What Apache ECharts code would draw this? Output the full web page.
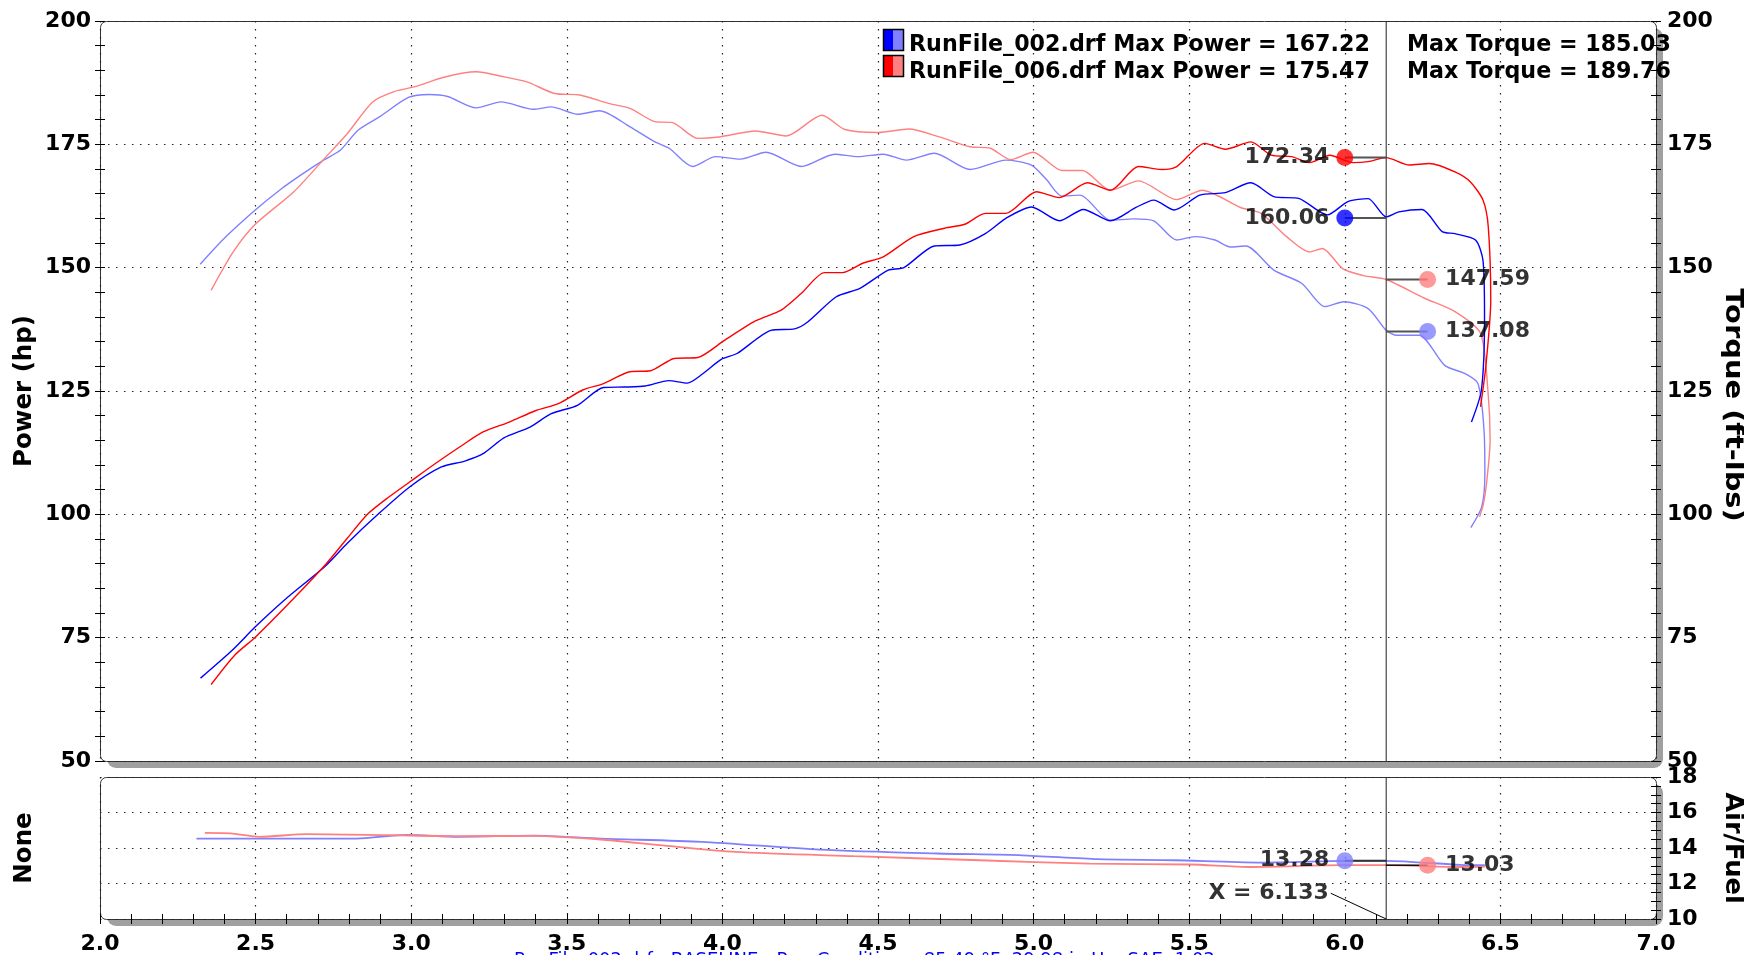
<!DOCTYPE html>
<html>
<head>
<meta charset="utf-8">
<script src="https://cdn.jsdelivr.net/npm/echarts@6.0.0/dist/echarts.min.js"></script>
<style>
  html, body { margin: 0; padding: 0; background: #fff; }
  #dyno { width: 1744px; height: 955px; }
</style>
</head>
<body>
<div id="dyno"></div>
<script>
//run files
var runNames = ['RunFile_002.drf', 'RunFile_006.drf'];
var maxPower = [167.22, 175.47];
var maxTorque = [185.03, 189.76];
var footerText = 'RunFile_002.drf - BASELINE - Run Conditions: 85.49 \u00b0F, 29.98 in Hg, SAE: 1.02';

//rpm (x1000) axis ticks
var rpmTicks = [2.0, 2.5, 3.0, 3.5, 4.0, 4.5, 5.0, 5.5, 6.0, 6.5, 7.0];

//power (hp), [rpm, hp]
var power002 = [[2.323,66.8],[2.424,72.4],[2.499,77.2],[2.592,82.6],[2.727,89.7],[2.794,94.1],[2.895,100.1],[2.996,105.6],[3.097,109.6],[3.172,110.8],[3.231,112.3],[3.298,115.5],[3.382,117.7],[3.450,120.4],[3.534,122.1],[3.618,125.7],[3.685,125.8],[3.752,126.0],[3.828,127.1],[3.887,126.6],[3.937,128.5],[3.996,131.4],[4.047,132.6],[4.156,137.3],[4.232,137.6],[4.274,139.0],[4.366,144.1],[4.442,145.8],[4.533,149.5],[4.583,150.0],[4.681,154.4],[4.763,154.6],[4.845,156.9],[4.911,160.0],[4.993,162.3],[5.083,159.5],[5.160,161.8],[5.247,159.5],[5.329,162.2],[5.386,163.7],[5.452,161.7],[5.534,164.7],[5.616,165.2],[5.698,167.2],[5.772,164.4],[5.854,164.0],[5.944,160.7],[6.010,163.4],[6.075,164.0],[6.133,160.3],[6.174,161.3],[6.248,161.8],[6.313,157.3],[6.354,156.9],[6.420,155.6],[6.444,151.5],[6.449,140.0],[6.439,125.2],[6.407,118.7]];
var power006 = [[2.357,65.5],[2.432,71.4],[2.499,75.1],[2.626,83.2],[2.727,90.0],[2.794,95.1],[2.861,100.1],[2.928,103.5],[2.996,106.6],[3.080,110.4],[3.164,114.0],[3.231,116.7],[3.315,118.7],[3.399,121.0],[3.475,122.5],[3.551,125.2],[3.618,126.5],[3.702,128.9],[3.769,129.1],[3.845,131.6],[3.921,131.8],[4.005,135.2],[4.106,139.2],[4.189,141.4],[4.254,144.8],[4.328,149.0],[4.386,149.0],[4.451,150.9],[4.517,152.2],[4.615,156.3],[4.714,158.0],[4.779,158.8],[4.845,161.0],[4.911,161.0],[5.009,165.4],[5.083,164.2],[5.173,167.2],[5.247,165.7],[5.337,170.5],[5.411,169.9],[5.460,170.5],[5.550,175.2],[5.616,174.0],[5.698,175.5],[5.764,172.8],[5.829,172.5],[5.887,171.3],[5.952,172.8],[6.026,171.3],[6.075,171.5],[6.133,172.3],[6.207,170.8],[6.272,171.1],[6.354,169.4],[6.403,167.4],[6.444,163.7],[6.461,158.3],[6.469,143.4],[6.453,129.9],[6.436,121.8]];

//torque (ft-lbs), [rpm, ft-lbs]
var torque002 = [[2.322,150.7],[2.405,156.3],[2.499,161.7],[2.577,165.7],[2.646,168.8],[2.721,171.9],[2.772,173.8],[2.830,177.9],[2.899,180.6],[2.991,184.5],[3.059,185.1],[3.117,184.7],[3.209,182.4],[3.289,183.6],[3.393,182.1],[3.450,182.6],[3.536,181.1],[3.605,181.8],[3.702,178.6],[3.783,175.5],[3.829,174.2],[3.904,170.5],[3.978,172.5],[4.058,172.0],[4.140,173.4],[4.254,170.5],[4.361,173.0],[4.435,172.5],[4.517,173.0],[4.591,171.8],[4.681,173.2],[4.796,169.9],[4.911,171.8],[4.993,170.8],[5.042,167.8],[5.091,164.5],[5.149,164.7],[5.247,159.6],[5.321,159.9],[5.386,159.5],[5.460,155.6],[5.518,156.3],[5.583,155.6],[5.632,154.2],[5.682,154.4],[5.772,149.5],[5.862,146.8],[5.936,142.1],[5.997,143.1],[6.075,141.7],[6.133,137.3],[6.165,136.3],[6.239,136.3],[6.321,130.2],[6.387,128.5],[6.428,126.5],[6.448,116.4],[6.450,108.0],[6.440,101.5],[6.405,97.3]];
var torque006 = [[2.357,145.4],[2.428,153.2],[2.499,158.8],[2.623,165.4],[2.721,172.1],[2.795,177.2],[2.876,183.6],[2.945,185.7],[3.013,186.7],[3.105,188.6],[3.209,189.7],[3.289,188.8],[3.370,187.7],[3.461,185.3],[3.542,185.0],[3.634,183.3],[3.703,182.3],[3.783,179.6],[3.840,179.4],[3.921,176.2],[3.990,176.5],[4.107,177.7],[4.205,176.7],[4.320,180.9],[4.394,178.0],[4.500,177.4],[4.599,178.1],[4.697,176.5],[4.796,174.5],[4.861,174.2],[4.927,171.9],[4.998,173.4],[5.091,169.7],[5.157,169.7],[5.247,165.7],[5.337,167.6],[5.460,163.8],[5.542,165.7],[5.665,162.2],[5.731,161.0],[5.813,156.3],[5.887,153.2],[5.928,153.9],[5.993,149.8],[6.059,148.4],[6.133,147.6],[6.256,143.8],[6.354,141.1],[6.436,136.7],[6.460,125.0],[6.467,115.0],[6.455,106.0],[6.445,102.0],[6.433,99.5]];

//air/fuel, [rpm, ratio]
var afr002 = [[2.310,14.53],[2.824,14.53],[2.987,14.74],[3.149,14.63],[3.393,14.70],[3.609,14.53],[3.934,14.35],[4.313,13.91],[4.692,13.69],[4.963,13.59],[5.206,13.37],[5.450,13.31],[5.721,13.18],[5.991,13.27],[6.133,13.28],[6.370,13.05],[6.450,13.03]];
var afr006 = [[2.337,14.85],[2.420,14.82],[2.513,14.63],[2.662,14.78],[2.932,14.72],[3.149,14.67],[3.393,14.68],[3.609,14.48],[3.799,14.16],[4.042,13.78],[4.421,13.54],[4.828,13.31],[5.179,13.12],[5.504,13.07],[5.694,12.93],[5.991,13.03],[6.133,13.03],[6.370,12.93],[6.450,12.95]];

//cursor readout
var cursorRpm = 6.133;
var readoutLeftRpm = 6.0;
var readoutRightRpm = 6.266;
var cursorPower = [160.06, 172.34];
var cursorTorque = [137.08, 147.59];
var cursorAfr = [13.28, 13.03];
var cursorTag = [5.955, 11.45];

//colours
var darkColors = ['#0000ff', '#ff0000'];
var lightColors = ['#8080ff', '#ff8080'];

//layout
var FONT = 'DejaVu Sans';
var gTop = {left: 100, top: 21, width: 1556, height: 740};
var gBot = {left: 100, top: 777, width: 1556, height: 142};
var boldText = {fontFamily: FONT, fontWeight: 'bold', fontSize: 22, color: '#000'};
var dotted = {color: '#222', width: 1.2, type: [1.5, 6.5]};

function tickAxis(base, inside, withLabel, withSplit, minorSplit) {
    var ax = {
        type: 'value',
        axisLine: {show: false},
        axisTick: {show: true, inside: inside, length: 5, lineStyle: {color: '#000', width: 1}},
        minorTick: {show: true, splitNumber: minorSplit, length: 5, lineStyle: {color: '#000', width: 1}},
        splitLine: {show: withSplit, lineStyle: dotted},
        axisLabel: withLabel ? Object.assign({show: true, showMinLabel: true, showMaxLabel: true}, boldText) : {show: false}
    };
    return Object.assign(ax, base);
}

function curve(name, data, color, xi, yi, z, width) {
    return {
        name: name, type: 'line', data: data, xAxisIndex: xi, yAxisIndex: yi,
        smooth: 0.25, showSymbol: false, symbol: 'none', z: z,
        lineStyle: {color: color, width: width || 1.4}
    };
}

function segment(data, xi, yi, color, width, z) {
    return {
        type: 'line', data: data, xAxisIndex: xi, yAxisIndex: yi, symbol: 'none',
        showSymbol: false, z: z, lineStyle: {color: color, width: width}
    };
}

function readout(rpm, value, color, side, xi, yi) {
    return {
        type: 'scatter', xAxisIndex: xi, yAxisIndex: yi, z: 8,
        symbolSize: 17, itemStyle: {color: color},
        data: [[rpm, value]],
        label: Object.assign({
            show: true, position: side, distance: side === 'left' ? 7 : 9,
            textBorderWidth: 0,
            formatter: function (p) { return p.value[1].toFixed(2); }
        }, boldText)
    };
}

var series = [];
//torque first, power above
series.push(curve('Torque 002', torque002, lightColors[0], 0, 0, 2));
series.push(curve('Torque 006', torque006, lightColors[1], 0, 0, 2));
series.push(curve('Power 002', power002, darkColors[0], 0, 0, 3));
series.push(curve('Power 006', power006, darkColors[1], 0, 0, 3));
series.push(curve('AFR 002', afr002, lightColors[0], 1, 4, 2, 1.8));
series.push(curve('AFR 006', afr006, lightColors[1], 1, 4, 2, 1.8));

//cursor lines
series.push(segment([[cursorRpm, 50], [cursorRpm, 200]], 0, 0, '#222', 1, 4));
series.push(segment([[cursorRpm, 10], [cursorRpm, 18]], 1, 4, '#222', 1, 4));

//readout connectors and dots
for (var i = 0; i < 2; i++) {
    series.push(segment([[readoutLeftRpm, cursorPower[i]], [cursorRpm, cursorPower[i]]], 0, 0, '#555', 2, 5));
    series.push(segment([[cursorRpm, cursorTorque[i]], [readoutRightRpm, cursorTorque[i]]], 0, 0, '#555', 2, 5));
    series.push(readout(readoutLeftRpm, cursorPower[i], darkColors[i], 'left', 0, 0));
    series.push(readout(readoutRightRpm, cursorTorque[i], lightColors[i], 'right', 0, 0));
}
series.push(segment([[readoutLeftRpm, cursorAfr[0]], [cursorRpm, cursorAfr[0]]], 1, 4, '#333', 2, 5));
series.push(segment([[cursorRpm, cursorAfr[1]], [readoutRightRpm, cursorAfr[1]]], 1, 4, '#111', 1.5, 5));
series.push(readout(readoutLeftRpm, cursorAfr[0], lightColors[0], 'left', 1, 4));
series.push(readout(readoutRightRpm, cursorAfr[1], lightColors[1], 'right', 1, 4));

//X = tag with leader
series.push(segment([cursorTag, [cursorRpm, 10]], 1, 4, '#000', 1, 5));
series.push({
    type: 'scatter', xAxisIndex: 1, yAxisIndex: 4, symbolSize: 0, z: 8,
    data: [cursorTag],
    label: Object.assign({show: true, position: 'left', distance: 2,
        formatter: 'X = ' + cursorRpm.toFixed(3)}, boldText)
});

//frames, legend, titles
function frame(g) {
    return [
        {type: 'rect', z: -20, shape: {x: g.left + 7, y: g.top + 7, width: g.width, height: g.height, r: 9},
            style: {fill: '#a0a0a0'}},
        {type: 'rect', z: -10, shape: {x: g.left + 0.5, y: g.top + 0.5, width: g.width, height: g.height, r: 6},
            style: {fill: '#fff', stroke: '#333', lineWidth: 1}}
    ];
}

function vText(text, x, y, rot, stretch) {
    return {type: 'text', x: x, y: y, rotation: rot, scaleX: stretch || 1, z: 10,
        style: {text: text, fill: '#000', font: 'bold 24.5px "' + FONT + '"', align: 'center', verticalAlign: 'middle'}};
}

var graphics = frame(gTop).concat(frame(gBot));
var iconY = [29.5, 55.5];
var rowY = [45.5, 72];
for (var r = 0; r < 2; r++) {
    graphics.push({type: 'rect', z: 10, shape: {x: 883.5, y: iconY[r], width: 10, height: 21},
        style: {fill: darkColors[r]}});
    graphics.push({type: 'rect', z: 10, shape: {x: 893.5, y: iconY[r], width: 10, height: 21},
        style: {fill: lightColors[r]}});
    graphics.push({type: 'rect', z: 11, shape: {x: 883.5, y: iconY[r], width: 20, height: 21},
        style: {fill: 'none', stroke: '#000', lineWidth: 1.5}});
    graphics.push({type: 'text', x: 909, y: rowY[r], z: 10,
        style: {text: runNames[r] + ' Max Power = ' + maxPower[r].toFixed(2), fill: '#000',
            font: 'bold 22.2px "' + FONT + '"', verticalAlign: 'middle'}});
    graphics.push({type: 'text', x: 1407, y: rowY[r], z: 10,
        style: {text: 'Max Torque = ' + maxTorque[r].toFixed(2), fill: '#000',
            font: 'bold 22.2px "' + FONT + '"', verticalAlign: 'middle'}});
}
graphics.push(vText('Power (hp)', 25, 391, Math.PI / 2));
graphics.push(vText('Torque (ft-lbs)', 1732, 405, -Math.PI / 2, 1.18));
graphics.push(vText('None', 25, 848, Math.PI / 2));
graphics.push(vText('Air/Fuel', 1732, 848, -Math.PI / 2, 1.05));
graphics.push({type: 'text', x: 514, y: 951, z: 10,
    style: {text: footerText, fill: '#0000ff', font: '18px "' + FONT + '"', verticalAlign: 'top'}});

var rpmMin = rpmTicks[0], rpmMax = rpmTicks[rpmTicks.length - 1];
var rpmStep = rpmTicks[1] - rpmTicks[0];

var option = {
    animation: false,
    backgroundColor: '#fff',
    grid: [
        Object.assign({show: false, containLabel: false, outerBoundsMode: 'none'}, gTop),
        Object.assign({show: false, containLabel: false, outerBoundsMode: 'none'}, gBot)
    ],
    xAxis: [
        {type: 'value', gridIndex: 0, min: rpmMin, max: rpmMax, interval: rpmStep,
            axisLine: {show: false}, axisTick: {show: false}, axisLabel: {show: false},
            splitLine: {show: true, lineStyle: dotted}},
        tickAxis({gridIndex: 1, min: rpmMin, max: rpmMax, interval: rpmStep, position: 'bottom',
            axisLabel: Object.assign({show: true, margin: 14, showMinLabel: true, showMaxLabel: true,
                formatter: function (v) { return v.toFixed(1); }}, boldText)}, false, true, true, 5),
        tickAxis({gridIndex: 1, min: rpmMin, max: rpmMax, interval: rpmStep, position: 'bottom'}, true, false, false, 5)
    ],
    yAxis: [
        tickAxis({gridIndex: 0, min: 50, max: 200, interval: 25, position: 'left',
            axisLabel: Object.assign({show: true, margin: 9, showMinLabel: true, showMaxLabel: true}, boldText)}, false, true, true, 5),
        tickAxis({gridIndex: 0, min: 50, max: 200, interval: 25, position: 'left'}, true, false, false, 5),
        tickAxis({gridIndex: 0, min: 50, max: 200, interval: 25, position: 'right',
            axisLabel: Object.assign({show: true, margin: 11, showMinLabel: true, showMaxLabel: true}, boldText)}, false, true, false, 5),
        tickAxis({gridIndex: 0, min: 50, max: 200, interval: 25, position: 'right'}, true, false, false, 5),
        tickAxis({gridIndex: 1, min: 10, max: 18, interval: 2, position: 'right',
            axisLabel: Object.assign({show: true, margin: 11, showMinLabel: true, showMaxLabel: true}, boldText)}, false, true, true, 4),
        tickAxis({gridIndex: 1, min: 10, max: 18, interval: 2, position: 'right'}, true, false, false, 4)
    ],
    graphic: {elements: graphics},
    series: series
};

var chart = echarts.init(document.getElementById('dyno'), null, {renderer: 'canvas'});
chart.setOption(option);
</script>
</body>
</html>
